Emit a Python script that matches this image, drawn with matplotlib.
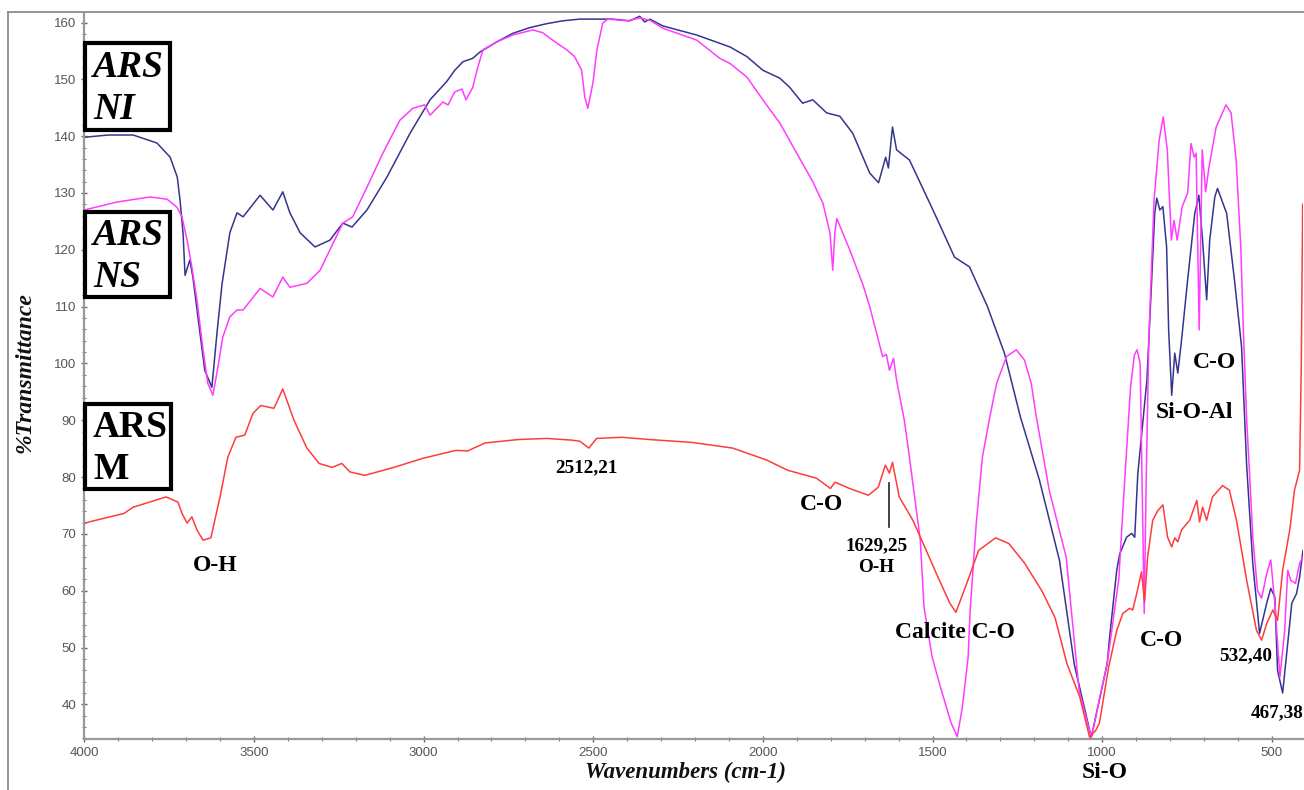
import matplotlib

matplotlib.use("Agg")
import matplotlib.pyplot as plt
from matplotlib.lines import Line2D
from matplotlib.patches import Rectangle
from matplotlib.ticker import MultipleLocator

# ARS NI (navy)
ni_wn = [4000, 3930, 3856, 3786, 3747, 3726, 3718, 3709, 3703, 3689, 3680, 3659,
         3645, 3624, 3609, 3594, 3571, 3550, 3532, 3482, 3444, 3415, 3394, 3364,
         3320, 3276, 3238, 3211, 3167, 3108, 3040, 2981, 2932, 2908, 2884, 2855,
         2834, 2784, 2737, 2687, 2637, 2590, 2540, 2443, 2392, 2363, 2348, 2333,
         2295, 2195, 2097, 2047, 2000, 1950, 1921, 1883, 1853, 1812, 1773, 1735,
         1685, 1659, 1638, 1630, 1618, 1606, 1568, 1530, 1494, 1435, 1391, 1338,
         1288, 1241, 1185, 1126, 1082, 1032, 985, 978, 957, 948, 928, 913, 904,
         895, 868, 854, 845, 839, 830, 821, 810, 804, 795, 786, 777, 766, 748,
         727, 715, 704, 692, 683, 668, 660, 633, 610, 589, 574, 556, 536, 515,
         503, 491, 483, 468, 456, 441, 427, 418, 408]
ni_t = [139.8, 140.2, 140.2, 138.8, 136.3, 132.8, 128.8, 123.0, 115.5, 118.2, 115.2, 105.3,
        98.8, 95.8, 105.3, 114.0, 123.0, 126.5, 125.8, 129.6, 127.0, 130.2, 126.5, 123.0,
        120.5, 121.7, 124.7, 124.0, 127.0, 132.8, 140.5, 146.4, 149.6, 151.6, 153.1, 153.7,
        154.8, 156.6, 158.1, 159.1, 159.8, 160.3, 160.6, 160.6, 160.3, 161.1, 160.1, 160.6,
        159.4, 157.8, 155.7, 154.0, 151.6, 150.2, 148.6, 145.8, 146.4, 144.1, 143.5, 140.5,
        133.5, 131.8, 136.3, 134.4, 141.6, 137.6, 135.8, 131.0, 126.4, 118.7, 117.0, 110.0,
        101.8, 90.6, 79.5, 65.4, 47.0, 34.2, 47.2, 51.8, 63.6, 66.5, 69.4, 70.1, 69.4,
        80.5, 97.1, 114.7, 126.4, 129.1, 127.0, 127.6, 120.5, 105.9, 94.4, 101.8, 98.3, 104.1, 114.7,
        126.4, 129.6, 121.7, 111.2, 121.7, 129.3, 130.8, 126.4, 114.7, 102.9, 82.0, 64.8, 52.5, 57.8,
        60.4, 58.9, 46.0, 42.0, 49.0, 57.8, 59.5, 62.4, 67.1]

# ARS NS (magenta)
ns_wn = [4000, 3904, 3806, 3756, 3727, 3712, 3697, 3683, 3668, 3650, 3636, 3621,
         3606, 3592, 3571, 3550, 3532, 3482, 3444, 3415, 3394, 3344, 3305, 3238,
         3209, 3167, 3120, 3070, 3032, 2997, 2981, 2943, 2928, 2908, 2887, 2875,
         2855, 2840, 2825, 2784, 2737, 2678, 2649, 2608, 2578, 2555, 2534, 2525,
         2516, 2501, 2489, 2472, 2457, 2400, 2363, 2333, 2295, 2195, 2127, 2097,
         2047, 2000, 1950, 1900, 1853, 1823, 1802, 1794, 1788, 1782, 1744, 1706,
         1685, 1647, 1636, 1627, 1615, 1606, 1583, 1568, 1536, 1525, 1501, 1474,
         1445, 1427, 1412, 1395, 1389, 1371, 1353, 1331, 1311, 1282, 1253, 1229,
         1209, 1194, 1156, 1106, 1068, 1032, 985, 951, 935, 916, 905, 897, 888,
         876, 870, 862, 847, 832, 820, 808, 796, 788, 779, 764, 748, 738, 729,
         723, 714, 705, 695, 685, 664, 635, 620, 605, 591, 585, 574, 565, 556,
         542, 530, 515, 503, 491, 476, 462, 453, 444, 430, 418, 408]
ns_t = [127.0, 128.4, 129.3, 128.9, 127.5, 125.8, 121.7, 117.0, 111.2, 102.4, 96.5, 94.4,
        99.4, 104.6, 108.2, 109.4, 109.4, 113.2, 111.7, 115.2, 113.4, 114.1, 116.4, 124.7,
        125.8, 131.0, 137.0, 142.8, 144.9, 145.5, 143.7, 146.0, 145.5, 147.8, 148.3, 146.4,
        148.6, 152.2, 155.2, 156.6, 157.8, 158.7, 158.2, 156.4, 155.2, 154.0, 151.6, 146.9,
        144.9, 149.3, 155.2, 159.9, 160.6, 160.3, 160.8, 160.4, 159.0, 156.9, 153.7, 152.8,
        150.4, 146.4, 142.3, 137.0, 132.0, 128.2, 122.9, 116.4, 122.9, 125.5, 120.0, 114.0,
        110.0, 101.2, 101.6, 98.8, 100.9, 97.1, 90.0, 83.5, 68.9, 57.1, 48.3, 42.5,
        36.7, 34.3, 39.5, 48.3, 56.6, 71.9, 83.5, 90.6, 96.5, 101.2, 102.4, 100.6,
        96.5, 90.6, 77.7, 65.9, 42.5, 34.2, 47.2, 62.0, 78.0, 96.0, 101.5, 102.4, 100.0,
        56.0, 80.0, 105.0, 128.8, 139.3, 143.4, 137.6, 121.7, 125.2, 121.7, 127.6, 130.0, 138.7, 136.3,
        137.0, 105.9, 137.6, 130.2, 134.6, 141.6, 145.5, 144.1, 135.8, 120.0, 108.0, 90.0, 80.0, 69.4,
        60.0, 58.7, 63.0, 65.4, 57.8, 44.8, 53.0, 63.6, 61.8, 61.3, 64.8, 66.0]

# ARS M (red)
m_wn = [4000, 3883, 3856, 3759, 3724, 3712, 3697, 3683, 3668, 3650, 3627, 3600,
        3577, 3553, 3527, 3503, 3480, 3441, 3415, 3382, 3344, 3308, 3270, 3241,
        3217, 3173, 3088, 3002, 2905, 2870, 2819, 2722, 2637, 2563, 2539, 2513,
        2490, 2416, 2333, 2209, 2089, 1989, 1927, 1842, 1801, 1787, 1745, 1689,
        1660, 1639, 1627, 1618, 1598, 1558, 1523, 1484, 1449, 1431, 1399, 1364,
        1314, 1275, 1228, 1178, 1139, 1104, 1066, 1037, 1019, 1008, 981, 957,
        939, 919, 910, 898, 884, 875, 866, 851, 836, 821, 807, 795, 786, 777,
        766, 742, 721, 713, 704, 692, 675, 645, 625, 604, 574, 545, 530, 515,
        497, 483, 468, 447, 433, 418, 413, 409]
m_t = [71.9, 73.6, 74.7, 76.5, 75.6, 73.6, 71.9, 73.0, 70.7, 68.9, 69.3, 76.5,
       83.5, 87.0, 87.4, 91.2, 92.6, 92.1, 95.5, 90.0, 85.1, 82.4, 81.7, 82.4,
       80.9, 80.3, 81.7, 83.3, 84.7, 84.6, 86.0, 86.6, 86.8, 86.5, 86.3, 85.1,
       86.8, 87.0, 86.6, 86.1, 85.1, 83.0, 81.2, 79.8, 78.0, 79.1, 78.0, 76.8,
       78.2, 82.1, 80.7, 82.6, 76.5, 72.4, 67.7, 62.4, 57.8, 56.2, 61.3, 67.1,
       69.3, 68.3, 64.8, 60.0, 55.3, 47.2, 41.3, 34.2, 35.4, 36.7, 46.5, 53.0,
       56.0, 56.9, 56.6, 59.5, 63.3, 58.0, 65.9, 72.4, 74.1, 75.1, 69.4, 67.7, 69.3, 68.6,
       70.7, 72.4, 75.9, 72.1, 74.7, 72.4, 76.5, 78.5, 77.7, 72.4, 61.8, 53.0, 51.3, 54.2,
       56.6, 54.8, 63.6, 70.7, 77.7, 81.2, 100.0, 128.0]

series = [
    (ni_wn, ni_t, "#35358f"),
    (ns_wn, ns_t, "#ff3cff"),
    (m_wn, m_t, "#ff3c3c"),
]

# (text, wavenumber, %T, fontsize)
peak_labels = [
    ("O-H", 3615, 64.5, 17),
    ("2512,21", 2519, 81.7, 13.8),
    ("C-O", 1827, 75.1, 17),
    ("1629,25\nO-H", 1665, 66.0, 13.8),
    ("Calcite C-O", 1435, 52.7, 17),
    ("C-O", 825, 51.3, 17),
    ("Si-O-Al", 727, 91.4, 17),
    ("C-O", 669, 100.2, 17),
    ("532,40", 577, 48.5, 13.8),
    ("467,38", 485, 38.6, 13.8),
]

W, H = 1304, 790
SERIF = "Liberation Serif"


def fxy(px, py):
    return px / W, 1 - py / H


fig = plt.figure(figsize=(W / 100, H / 100), dpi=100)
ax = fig.add_axes([84.3 / W, 1 - 739 / H, (1303 - 84.3) / W, (739 - 14) / H])

for wn, t, color in series:
    ax.plot(wn, t, color=color, linewidth=1.1)

ax.set_xlim(4000, 408)
ax.set_ylim(33.9, 161.5)
ax.xaxis.set_major_locator(MultipleLocator(500))
ax.xaxis.set_minor_locator(MultipleLocator(100))
ax.yaxis.set_minor_locator(MultipleLocator(2))
ax.set_yticks(range(40, 161, 10))

for side in ("top", "right"):
    ax.spines[side].set_visible(False)
for side in ("left", "bottom"):
    ax.spines[side].set_color("#9a9a9a")
    ax.spines[side].set_linewidth(1.6)

ax.tick_params(which="major", direction="inout", length=4, width=1, color="#666666",
               labelsize=9.5, labelcolor="#555555", pad=4)
ax.tick_params(which="minor", direction="inout", length=2.5, width=0.8, color="#777777")
for lab in ax.get_xticklabels() + ax.get_yticklabels():
    lab.set_family("Liberation Sans")

ax.set_xlabel("Wavenumbers (cm-1)", fontsize=16.5, fontweight="bold", style="italic",
              family=SERIF, color="#111111")
ax.xaxis.set_label_coords(0.493, -0.031)
ax.set_ylabel("%Transmittance", fontsize=17, fontweight="bold", style="italic",
              family=SERIF, color="#111111")
ax.yaxis.set_label_coords(-0.040, 0.505)

for text, wn, t, size in peak_labels:
    ax.text(wn, t, text, fontsize=size, fontweight="bold", family=SERIF,
            ha="center", va="center", linespacing=1.3)

# pointer line under the 1629 doublet
ax.plot([1627, 1627], [71.2, 79.0], color="#222222", linewidth=1.2)

ax.text(992, 29.8, "Si-O", fontsize=17, fontweight="bold", family=SERIF,
        ha="center", va="top", clip_on=False)

# sample name boxes
boxes = [
    ("ARS\nNI", 85, 43, 170, 130, "italic"),
    ("ARS\nNS", 85, 212, 170, 297, "italic"),
    ("ARS\nM", 85, 404, 171, 489, "normal"),
]
for text, x0, y0, x1, y1, style in boxes:
    bx, by = fxy(x0, y1)
    fig.add_artist(Rectangle((bx, by), (x1 - x0) / W, (y1 - y0) / H, transform=fig.transFigure,
                             fill=True, facecolor="white", edgecolor="black", linewidth=3))
    tx, ty = fxy(x0 + 8, (y0 + y1) / 2 + 2)
    fig.text(tx, ty, text, fontsize=27, fontweight="bold", style=style, family=SERIF,
             ha="left", va="center", linespacing=1.25)

# outer frame
x0, y0 = fxy(8, 12)
fig.add_artist(Line2D([x0, 1.0], [y0, y0], transform=fig.transFigure, color="#8a8a8a", linewidth=1.3))
fig.add_artist(Line2D([x0, x0], [0.0, y0], transform=fig.transFigure, color="#8a8a8a", linewidth=1.3))

plt.savefig("out.png", dpi=100)
plt.close(fig)
